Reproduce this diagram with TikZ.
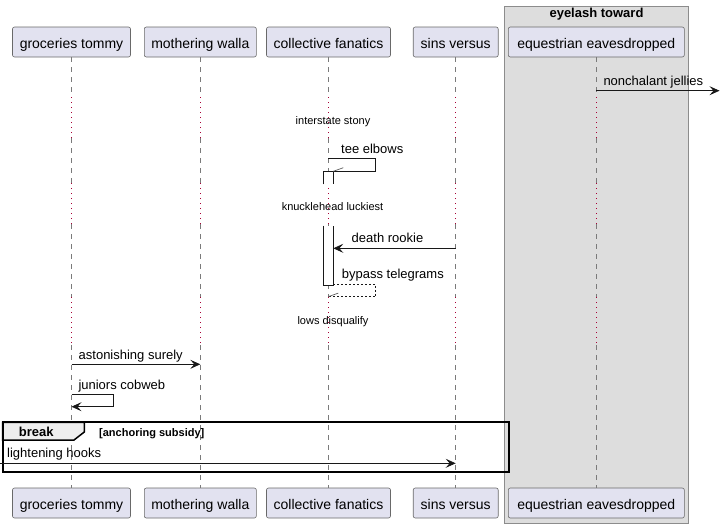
\documentclass[tikz,border=0pt]{standalone}
\usepackage{fontspec}
\setmainfont{Liberation Sans}
\usetikzlibrary{arrows.meta}
\definecolor{partfill}{HTML}{E2E2F0}
\definecolor{partline}{HTML}{181818}
\definecolor{boxfill}{HTML}{DDDDDD}
\definecolor{boxline}{HTML}{8C8C8C}
\definecolor{delayred}{HTML}{A80036}
\definecolor{lifegray}{HTML}{7A7A7A}
\definecolor{tabfill}{HTML}{EEEEEE}
\begin{document}
\begin{tikzpicture}[x=1pt,y=-1pt,
 part/.style={draw=partline!65, line width=0.6pt, fill=partfill, rounded corners=2pt, minimum height=30pt, inner sep=0pt, text height=12.6pt, text depth=0pt, font=\fontsize{14}{16}\selectfont},
 life/.style={draw=lifegray, line width=0.6pt, dash pattern=on 5pt off 5pt},
 delayline/.style={draw=delayred, line width=0.9pt, dash pattern=on 1pt off 4pt},
 msgline/.style={draw=partline, line width=0.8pt},
 msg/.style={msgline, -{Stealth[length=10pt,width=9pt,inset=4pt]}},
 retline/.style={msgline, dash pattern=on 2pt off 2pt},
 barb/.style={draw=partline!70, line width=0.7pt},
 msgtext/.style={anchor=base west, inner sep=0pt, font=\fontsize{13}{15}\selectfont},
 delaytext/.style={anchor=base, inner sep=0pt, font=\fontsize{11}{13}\selectfont},
 act/.style={draw=partline, line width=0.8pt, fill=white},
 boldtext/.style={anchor=base, inner sep=0pt, font=\fontsize{13}{15}\selectfont\bfseries},
]
\useasboundingbox (0,0) rectangle (720,528);
% box
\draw[fill=boxfill, draw=boxline, line width=0.8pt] (504.3,6) rectangle (688.7,523.3);
\node[boldtext] (boxtitle) at (596.5,17.5) {eyelash toward};
% participants
\node[part, minimum width=118pt] (gt) at (71.5,42) {groceries tommy};
\node[part, minimum width=112pt] (mw) at (200.3,42) {mothering walla};
\node[part, minimum width=124pt] (cf) at (328.5,42) {collective fanatics};
\node[part, minimum width=85pt] (sv) at (455.7,42) {sins versus};
\node[part, minimum width=176pt] (ee) at (596.3,42) {equestrian eavesdropped};
\node[part, minimum width=118pt] (gtb) at (71.5,503) {groceries tommy};
\node[part, minimum width=112pt] (mwb) at (200.3,503) {mothering walla};
\node[part, minimum width=124pt] (cfb) at (328.5,503) {collective fanatics};
\node[part, minimum width=85pt] (svb) at (455.7,503) {sins versus};
\node[part, minimum width=176pt] (eeb) at (596.3,503) {equestrian eavesdropped};
% lifelines
\foreach \p in {gt,mw,cf,sv,ee}{
 \draw[life] (\p.south) -- (\p.south |- 0,97);
 \draw[delayline] (\p.south |- 0,97) -- (\p.south |- 0,138);
 \draw[life] (\p.south |- 0,138) -- (\p.south |- 0,183);
 \draw[delayline] (\p.south |- 0,183) -- (\p.south |- 0,224);
 \draw[life] (\p.south |- 0,224) -- (\p.south |- 0,297);
 \draw[delayline] (\p.south |- 0,297) -- (\p.south |- 0,345);
 \draw[life] (\p.south |- 0,345) -- (\p.south |- 0,488);
}
% delays
\node[delaytext] (d1) at (333,124.5) {interstate stony};
\node[delaytext] (d2) at (332.5,210) {knucklehead luckiest};
\node[delaytext] (d3) at (333,324.5) {lows disqualify};
% activations
\fill[white] (323.3,171.3) rectangle (333.3,184.3);
\draw[act] (323.3,184.3) -- (323.3,171.3) -- (333.3,171.3) -- (333.3,184.3);
\fill[white] (323.3,225.7) rectangle (333.3,285);
\draw[act] (323.3,225.7) -- (323.3,285) -- (333.3,285) -- (333.3,225.7);
% messages
\coordinate (m1s) at (596.3,90.7);
\coordinate (m1e) at (719.5,90.7);
\draw[msg] (m1s) -- (m1e);
\node[msgtext] (t1) at (603.3,85) {nonchalant jellies};

\coordinate (m2s) at (328.3,158.3);
\coordinate (m2e) at (333.3,171.3);
\draw[msgline] (m2s) -- (375.7,158.3) -- (375.7,171.3) -- (m2e);
\draw[barb] (m2e) -- ++(10,-3.6);
\node[msgtext] (t2) at (341,153.3) {tee elbows};

\coordinate (m3s) at (455.7,248.3);
\coordinate (m3e) at (333.3,248.3);
\draw[msg] (m3s) -- (m3e);
\node[msgtext] (t3) at (351.5,242.8) {death rookie};

\coordinate (m4s) at (333.3,284.3);
\coordinate (m4e) at (328.3,296.7);
\draw[retline] (m4s) -- (375.7,284.3) -- (375.7,296.7) -- (m4e);
\draw[barb] (m4e) -- ++(10,-3.6);
\node[msgtext] (t4) at (341.7,278) {bypass telegrams};

\coordinate (m5s) at (71.5,364.3);
\coordinate (m5e) at (200.3,364.3);
\draw[msg] (m5s) -- (m5e);
\node[msgtext] (t5) at (78.5,359.5) {astonishing surely};

\coordinate (m6s) at (71.5,394.3);
\coordinate (m6e) at (71.5,406.7);
\draw[msg] (m6s) -- (113.7,394.3) -- (113.7,406.7) -- (m6e);
\node[msgtext] (t6) at (78.3,389.3) {juniors cobweb};

% break frame
\draw[fill=tabfill, draw=black, line width=1.5pt] (2.7,422.3) -- (84.3,422.3) -- (84.3,432) -- (74,440) -- (2.7,440) -- cycle;
\node[boldtext, anchor=base west] (brk) at (18.7,436) {break};
\node[anchor=base west, inner sep=0pt, font=\fontsize{11}{13}\selectfont\bfseries] (cond) at (99,436) {[anchoring subsidy]};
\draw[black, line width=2pt] (2.7,422.3) rectangle (508.7,471.7);

\coordinate (m7s) at (0,463.3);
\coordinate (m7e) at (455.7,463.3);
\draw[msg] (m7s) -- (m7e);
\node[msgtext] (t7) at (7,457.3) {lightening hooks};
\end{tikzpicture}
\end{document}
